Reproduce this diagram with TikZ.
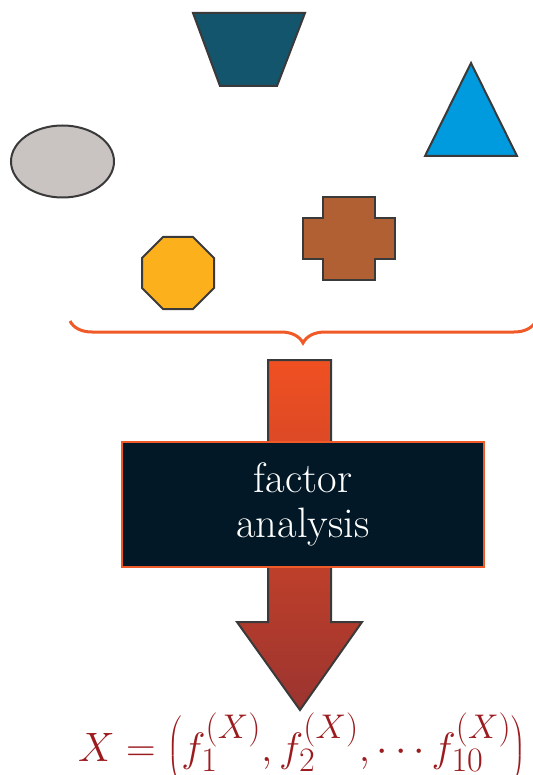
\RequirePackage{fix-cm}
\documentclass[tikz,border=0pt]{standalone}
\usepackage{graphicx}
\usetikzlibrary{decorations.pathreplacing,shapes.geometric}
\definecolor{edgegray}{RGB}{58,58,58}
\definecolor{trapcol}{RGB}{20,85,110}
\definecolor{tricol}{RGB}{0,154,222}
\definecolor{ellcol}{RGB}{201,195,193}
\definecolor{octcol}{RGB}{251,176,28}
\definecolor{crosscol}{RGB}{176,96,50}
\definecolor{bracecol}{RGB}{240,90,40}
\definecolor{arrtop}{RGB}{240,80,34}
\definecolor{arrbot}{RGB}{155,52,48}
\definecolor{boxcol}{RGB}{2,24,38}
\definecolor{mathcol}{RGB}{155,27,30}
\tikzset{
  shapestyle/.style={draw=edgegray, line width=2pt, line join=miter},
}
\begin{document}
\begin{tikzpicture}[x=1pt,y=-1pt]
\useasboundingbox (0,0) rectangle (532,775);
% trapezoid
\draw[shapestyle, fill=trapcol] (193,13) -- (305,13) -- (277,86) -- (220,86) -- cycle;
% triangle
\draw[shapestyle, fill=tricol] (471,63) -- (517,156) -- (425,156) -- cycle;
% ellipse
\draw[shapestyle, fill=ellcol] (62.5,161.5) ellipse [x radius=51.5, y radius=36];
% octagon
\draw[shapestyle, fill=octcol] (163,237) -- (193,237) -- (214,258) -- (214,288) -- (193,309) -- (163,309) -- (142,288) -- (142,258) -- cycle;
% cross
\draw[shapestyle, fill=crosscol] (323,197) -- (375,197) -- (375,218) -- (395,218) -- (395,259) -- (375,259) -- (375,280) -- (323,280) -- (323,259) -- (303,259) -- (303,218) -- (323,218) -- cycle;
% brace
\coordinate (bl) at (70,321);
\coordinate (br) at (536,321);
\draw[bracecol, line width=3pt, decorate, decoration={brace, mirror, amplitude=22pt, aspect=0.5}] (bl) -- (br);
% arrow
\draw[edgegray, line width=2pt, top color=arrtop, bottom color=arrbot]
  (268,360) -- (331,360) -- (331,622) -- (362,622) -- (300,710) -- (237,622) -- (268,622) -- cycle;
% box
\node[draw=bracecol, line width=2pt, fill=boxcol, text=white, minimum width=362pt, minimum height=125pt, align=center, font=\fontsize{42.5}{45}\selectfont, inner sep=0pt]
  (box) at (303,504.5) {factor\\analysis};
% formula
\node[text=mathcol, anchor=base, inner sep=0pt] (formula) at (302,761)
  {\scalebox{1.65}{\Huge$X=\left(f_1^{(X)},f_2^{(X)},\cdots f_{10}^{(X)}\right)$}};
\end{tikzpicture}
\end{document}
